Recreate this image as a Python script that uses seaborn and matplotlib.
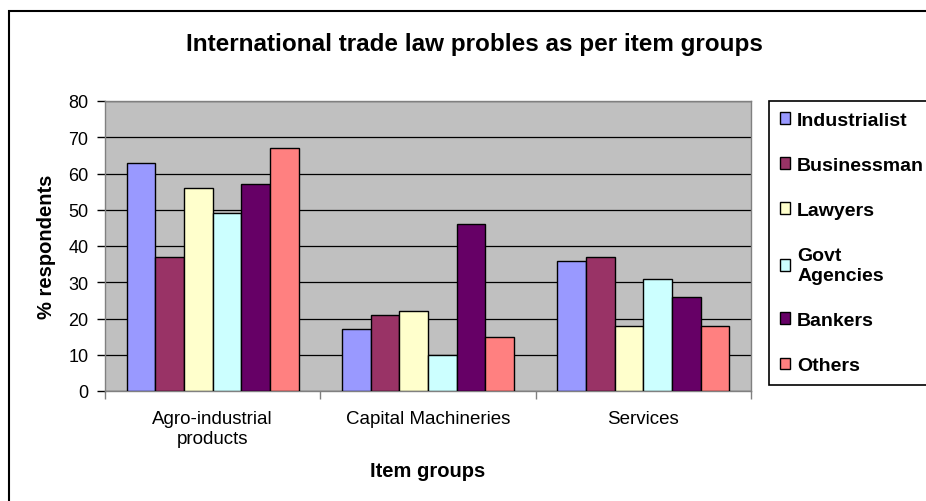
import numpy as np
import pandas as pd
import seaborn as sns
import matplotlib.pyplot as plt
from matplotlib.patches import Rectangle

# item groups and respondent categories
groups = ['Agro-industrial\nproducts', 'Capital Machineries', 'Services']
respondents = ['Industrialist', 'Businessman', 'Lawyers', 'Govt\nAgencies', 'Bankers', 'Others']

industrialist = [63, 17, 36]
businessman = [37, 21, 37]
lawyers = [56, 22, 18]
govt = [49, 10, 31]
bankers = [57, 46, 26]
others = [67, 15, 18]

colors = ['#9999FF', '#993366', '#FFFFCC', '#CCFFFF', '#660066', '#FF8080']

series = [industrialist, businessman, lawyers, govt, bankers, others]
rows = []
for name, vals in zip(respondents, series):
    for g, v in zip(groups, vals):
        rows.append({'group': g, 'who': name, 'pct': v})
df = pd.DataFrame(rows)

sns.set_style('white')
plt.rcParams['font.family'] = ['Liberation Sans', 'DejaVu Sans']
for k in ['text.color', 'axes.labelcolor', 'xtick.color', 'ytick.color']:
    plt.rcParams[k] = 'black'

fig = plt.figure(figsize=(9.26, 5.02), dpi=100)
ax = fig.add_axes([105 / 926, 1 - 392 / 502, (751 - 105) / 926, (392 - 102) / 502])
ax.set_facecolor('#C0C0C0')

sns.barplot(data=df, x='group', y='pct', hue='who', palette=colors,
            order=groups, hue_order=respondents, width=0.8, saturation=1,
            edgecolor='black', linewidth=1, ax=ax, zorder=3)

ax.set_ylim(0, 80)
ax.set_xlim(-0.5, 2.5)
ax.set_yticks(np.arange(0, 81, 10))
ax.yaxis.grid(True, color='black', linewidth=0.9, zorder=0)
ax.set_axisbelow(True)
for s in ax.spines.values():
    s.set_color('#808080')
    s.set_linewidth(1)

ax.tick_params(axis='y', which='major', left=True, length=6, width=1,
               color='black', labelsize=13, pad=6)
ax.tick_params(axis='x', which='major', length=0, labelsize=13.5, pad=14)
ax.set_xticks([-0.5, 0.5, 1.5, 2.5], minor=True)
ax.tick_params(axis='x', which='minor', bottom=True, length=6, width=1, color='#808080')

ax.set_xlabel('Item groups', fontsize=14.5, fontweight='bold', labelpad=10)
ax.set_ylabel('% respondents', fontsize=14.5, fontweight='bold', labelpad=9)

ax.get_legend().remove()
handles, labels = ax.get_legend_handles_labels()
leg = fig.legend(handles, labels, loc='upper left', bbox_to_anchor=(769 / 926, 1 - 102 / 502),
                 frameon=True, fancybox=False, edgecolor='black', framealpha=1,
                 prop={'size': 14, 'weight': 'bold'}, labelspacing=1.45,
                 handlelength=0.55, handleheight=0.55, handletextpad=0.35,
                 borderpad=0.55, borderaxespad=0)
leg.get_frame().set_linewidth(1.2)

fig.text(474 / 926, 1 - 45 / 502, 'International trade law probles as per item groups',
         ha='center', va='center', fontsize=17.5, fontweight='bold')

fig.patches.append(Rectangle((9 / 926, -0.1), 1.2, 1 - 12 / 502 + 0.1,
                             transform=fig.transFigure, fill=False,
                             edgecolor='black', linewidth=1.5))

fig.savefig('out.png', dpi=100)
